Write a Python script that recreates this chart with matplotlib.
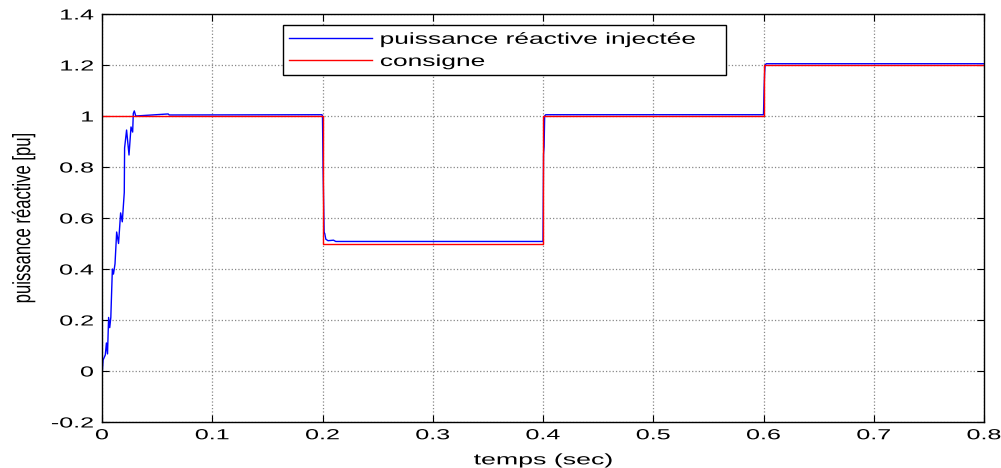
import numpy as np
import matplotlib.pyplot as plt
from matplotlib import patheffects
from matplotlib.transforms import Affine2D

plt.rcParams['font.family'] = ['Liberation Sans', 'DejaVu Sans']

# consigne (step reference)
t_ref = [0.0, 0.2, 0.2, 0.4, 0.4, 0.6, 0.6, 0.8]
q_ref = [1.0, 1.0, 0.5, 0.5, 1.0, 1.0, 1.2, 1.2]

# puissance réactive injectée (measured response)
t_inj = [0.0, 0.001, 0.003, 0.004, 0.005, 0.006, 0.007, 0.008, 0.0094, 0.0104,
         0.0118, 0.0133, 0.015, 0.0169, 0.0184, 0.0202, 0.0205, 0.0223, 0.0245,
         0.0263, 0.0278, 0.0284, 0.0293, 0.0306, 0.06, 0.061, 0.1995, 0.2,
         0.2005, 0.2015, 0.202, 0.203, 0.205, 0.21, 0.212, 0.4, 0.4005, 0.401,
         0.4015, 0.4025, 0.6, 0.6005, 0.601, 0.6015, 0.6025, 0.8]
q_inj = [-0.022, 0.043, 0.063, 0.11, 0.067, 0.21, 0.17, 0.21, 0.40, 0.38,
         0.42, 0.545, 0.50, 0.62, 0.585, 0.70, 0.875, 0.945, 0.847,
         0.957, 0.937, 1.01, 1.02, 1.0, 1.008, 1.004, 1.005, 1.0,
         0.80, 0.54, 0.54, 0.517, 0.511, 0.513, 0.508, 0.508, 0.85, 0.88,
         1.0, 1.005, 1.005, 1.10, 1.167, 1.20, 1.205, 1.205]

x_ticks = [0, 0.1, 0.2, 0.3, 0.4, 0.5, 0.6, 0.7, 0.8]
x_labels = ['0', '0.1', '0.2', '0.3', '0.4', '0.5', '0.6', '0.7', '0.8']
y_ticks = [-0.2, 0, 0.2, 0.4, 0.6, 0.8, 1.0, 1.2, 1.4]
y_labels = ['-0.2', '0', '0.2', '0.4', '0.6', '0.8', '1', '1.2', '1.4']


class Stretch(patheffects.AbstractPathEffect):
    """Widen glyphs (old MATLAB export look) around a chosen anchor."""

    def __init__(self, sx=1.0, sy=1.0, anchor='center'):
        super().__init__()
        self.sx, self.sy, self.anchor = sx, sy, anchor

    def draw_path(self, renderer, gc, tpath, affine, rgbFace=None):
        ext = tpath.get_extents()
        cx = {'left': ext.x0, 'right': ext.x1}.get(self.anchor, (ext.x0 + ext.x1) / 2)
        cy = (ext.y0 + ext.y1) / 2
        pre = Affine2D().translate(-cx, -cy).scale(self.sx, self.sy).translate(cx, cy)
        renderer.draw_path(gc, tpath, pre + affine, rgbFace)


fig = plt.figure(figsize=(10.01, 4.68), dpi=100)
ax = fig.add_axes([102 / 1001, 46 / 468, 882 / 1001, 408 / 468])

ax.plot(t_inj, q_inj, color='#0000ff', lw=1.0, label='puissance réactive injectée')
ax.plot(t_ref, q_ref, color='#ff0000', lw=1.0, label='consigne')

ax.set_xlim(0, 0.8)
ax.set_ylim(-0.2, 1.4)
ax.set_xticks(x_ticks)
ax.set_yticks(y_ticks)
ax.set_xticklabels(x_labels)
ax.set_yticklabels(y_labels)
ax.tick_params(direction='in', top=True, right=True, length=5, width=0.8,
               labelsize=10.5)
ax.tick_params(axis='x', pad=4.5)
ax.tick_params(axis='y', pad=6)
for lab in ax.get_xticklabels():
    lab.set_path_effects([Stretch(sx=1.72)])
for lab in ax.get_yticklabels():
    lab.set_path_effects([Stretch(sx=1.72, anchor='right')])

ax.grid(True, color='#888888', linestyle=':', linewidth=0.9)
for s in ax.spines.values():
    s.set_linewidth(1.0)

xl = ax.set_xlabel('temps (sec)', fontsize=11, labelpad=8)
xl.set_path_effects([Stretch(sx=1.75)])
yl = ax.set_ylabel('puissance réactive [pu]', fontsize=12, labelpad=27)
yl.set_path_effects([Stretch(sy=1.5)])

leg = ax.legend(loc='upper left', bbox_to_anchor=(0.205, 0.848, 0.502, 0.124),
                mode='expand', fontsize=11.5, handlelength=5.2,
                handletextpad=0.5, borderpad=0.4, labelspacing=0.45,
                fancybox=False, framealpha=1, edgecolor='black', borderaxespad=0)
leg.get_frame().set_linewidth(1.0)
for txt in leg.get_texts():
    txt.set_path_effects([Stretch(sx=1.65, anchor='left')])

fig.savefig('out.png', dpi=100)
